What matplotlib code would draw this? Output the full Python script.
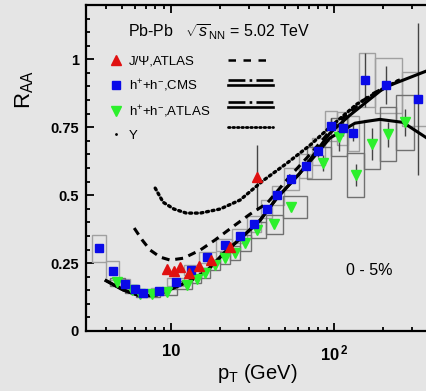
import matplotlib
matplotlib.use('Agg')
import matplotlib.pyplot as plt
from matplotlib.lines import Line2D
from matplotlib.patches import Rectangle
from matplotlib.legend_handler import HandlerBase
from matplotlib.ticker import FixedLocator, NullFormatter
import numpy as np

plt.rcParams['font.family'] = ['Liberation Sans', 'DejaVu Sans']
plt.rcParams['mathtext.fontset'] = 'custom'
plt.rcParams['mathtext.rm'] = 'Liberation Sans'
plt.rcParams['mathtext.it'] = 'Liberation Sans:italic'
plt.rcParams['mathtext.bf'] = 'Liberation Sans:bold'

# --- data ---
cms_pt = [3.6, 4.4, 5.2, 6.0, 6.7, 8.4, 10.7, 13.3, 16.6, 21.4, 26.5, 32.3, 38.8,
          44.7, 54.5, 67.3, 79.8, 95.9, 113.6, 130.8, 155, 208, 327]
cms_raa = [0.305, 0.221, 0.173, 0.154, 0.140, 0.147, 0.180, 0.224, 0.272, 0.316,
           0.349, 0.393, 0.449, 0.500, 0.559, 0.607, 0.662, 0.754, 0.746, 0.728,
           0.923, 0.904, 0.853]
cms_stat = [0, 0, 0, 0, 0, 0, 0, 0, 0, 0, 0, 0, 0, 0, 0, 0, 0.02, 0.03, 0.03,
            0.03, 0.10, 0.07, 0.28]
cms_syst = [0.05, 0.035, 0.02, 0.015, 0.012, 0.012, 0.015, 0.018, 0.02, 0.022,
            0.025, 0.03, 0.032, 0.035, 0.04, 0.045, 0.05, 0.055, 0.06, 0.065,
            0.1, 0.1, 0.1]

atl_pt = [4.67, 5.77, 6.46, 7.64, 9.45, 12.5, 14.4, 16.2, 18.6, 21.4, 24.7, 28.4,
          33.7, 42.9, 54.5, 85.7, 107, 136, 171, 214, 273]
atl_raa = [0.180, 0.151, 0.136, 0.136, 0.143, 0.169, 0.191, 0.213, 0.243, 0.268,
           0.287, 0.324, 0.371, 0.393, 0.456, 0.618, 0.713, 0.574, 0.688, 0.724,
           0.768]
atl_stat = [0, 0, 0, 0, 0, 0, 0, 0, 0, 0, 0, 0, 0, 0, 0, 0.03, 0.05, 0.04, 0.06,
            0.045, 0.05]
atl_syst = [0.015, 0.012, 0.012, 0.012, 0.012, 0.015, 0.015, 0.018, 0.02, 0.022,
            0.025, 0.03, 0.03, 0.035, 0.04, 0.06, 0.07, 0.08, 0.09, 0.1, 0.1]

jpsi_pt = [9.45, 10.4, 11.4, 12.9, 14.9, 17.6, 23.0, 33.7]
jpsi_raa = [0.228, 0.221, 0.235, 0.213, 0.239, 0.261, 0.309, 0.566]
jpsi_stat = [0, 0, 0, 0, 0, 0, 0, 0.12]

# model curves
hcms_pt = [3.99, 5.08, 6.46, 8.21, 10.3, 13.1, 16.6, 21.4, 27.3, 35.2, 44.7, 61.8,
           76.4, 94.4, 125, 205, 366]
hcms_raa = [0.185, 0.151, 0.129, 0.133, 0.158, 0.185, 0.222, 0.290, 0.346, 0.408,
            0.490, 0.581, 0.655, 0.728, 0.794, 0.897, 0.956]
hatl_pt = [3.99, 5.08, 6.46, 8.21, 10.3, 13.1, 16.6, 21.4, 27.3, 35.2, 44.7, 61.8,
           76.4, 94.4, 134.6, 191, 265, 366]
hatl_raa = [0.185, 0.151, 0.129, 0.133, 0.158, 0.185, 0.222, 0.290, 0.346, 0.408,
            0.490, 0.581, 0.645, 0.710, 0.765, 0.779, 0.768, 0.713]
jmod_pt = [5.93, 6.64, 7.43, 8.57, 9.86, 11.9, 15.1, 18.6, 24.7, 30.5, 38.8, 53.7,
           73.3, 104, 166, 254]
jmod_raa = [0.379, 0.335, 0.298, 0.272, 0.261, 0.268, 0.298, 0.335, 0.390, 0.430,
            0.470, 0.570, 0.658, 0.765, 0.868, 0.925]
ups_pt = [7.98, 8.93, 10.4, 12.4, 15.1, 20.0, 26.5, 36.6, 51.5, 71.3, 94.4, 138,
          184, 254]
ups_raa = [0.526, 0.474, 0.449, 0.434, 0.434, 0.449, 0.482, 0.553, 0.618, 0.684,
           0.750, 0.835, 0.879, 0.925]

red = '#e01010'
blue = '#0a0ae8'
green = '#2cf02c'
bg = '#e5e5e5'


def bin_edges(pt):
    pt = np.asarray(pt, float)
    mid = np.sqrt(pt[:-1] * pt[1:])
    lo = np.r_[pt[0] ** 2 / mid[0], mid]
    hi = np.r_[mid, pt[-1] ** 2 / mid[-1]]
    return lo, hi


def draw_boxes(ax, pt, raa, syst, color):
    lo, hi = bin_edges(pt)
    for a, b, y, s in zip(lo, hi, raa, syst):
        ax.add_patch(Rectangle((a, y - s), b - a, 2 * s, fill=False,
                               ec=color, lw=1.0, zorder=2))


class DoubleLine(HandlerBase):
    def create_artists(self, legend, orig_handle, xdescent, ydescent,
                       width, height, fontsize, trans):
        x = [-xdescent, width - xdescent]
        yc = height / 2 - ydescent
        top = Line2D(x, [yc + 1.6, yc + 1.6], color='k', lw=1.9, ls='-.',
                     transform=trans)
        bot = Line2D(x, [yc - 1.6, yc - 1.6], color='k', lw=1.9,
                     transform=trans)
        return [top, bot]


fig = plt.figure(figsize=(4.26, 3.91), dpi=100, facecolor=bg)
ax = fig.add_axes([86 / 426, 1 - 331 / 391, (432 - 86) / 426, (331 - 5) / 391])
ax.set_facecolor(bg)
ax.set_xscale('log')
ax.set_xlim(3, 400)
ax.set_ylim(0, 1.2)

draw_boxes(ax, cms_pt, cms_raa, cms_syst, '#a0a0a0')
draw_boxes(ax, atl_pt, atl_raa, atl_syst, '#707070')

ax.errorbar(cms_pt, cms_raa, yerr=cms_stat, fmt='none', ecolor='#444444',
            elinewidth=1, capsize=0, zorder=3)
ax.errorbar(atl_pt, atl_raa, yerr=atl_stat, fmt='none', ecolor='#444444',
            elinewidth=1, capsize=0, zorder=3)
ax.errorbar(jpsi_pt, jpsi_raa, yerr=jpsi_stat, fmt='none', ecolor='#444444',
            elinewidth=1, capsize=0, zorder=3)

ax.plot(hcms_pt, hcms_raa, color='k', lw=2.2, zorder=4)
ax.plot(hatl_pt, hatl_raa, color='k', lw=2.2, zorder=4)
ax.plot(jmod_pt, jmod_raa, color='k', lw=2.2, ls=(0, (2.6, 1.9)), zorder=4)
ax.plot(ups_pt, ups_raa, color='k', lw=2.4, ls=(0, (0.6, 1.1)),
        dash_capstyle='round', zorder=4)

ax.plot(atl_pt, atl_raa, ls='none', marker='v', ms=6.5, color=green, mec=green,
        zorder=5)
ax.plot(cms_pt, cms_raa, ls='none', marker='s', ms=6, color=blue, mec=blue,
        zorder=5)
ax.plot(jpsi_pt, jpsi_raa, ls='none', marker='^', ms=7, color=red, mec=red,
        zorder=6)

# axes styling
for s in ax.spines.values():
    s.set_linewidth(1.6)
ax.yaxis.set_major_locator(FixedLocator([0, 0.25, 0.5, 0.75, 1.0]))
ax.yaxis.set_minor_locator(FixedLocator(np.arange(0, 1.21, 0.05)))
ax.set_yticklabels(['0', '0.25', '0.5', '0.75', '1'], fontsize=10.5,
                   fontweight='bold')
ax.xaxis.set_major_locator(FixedLocator([10, 100]))
ax.set_xticklabels(['10', r'$\mathbf{10^{\,2}}$'], fontsize=12, fontweight='bold')
ax.xaxis.set_minor_formatter(NullFormatter())
ax.tick_params(which='both', direction='in', top=True, right=False, width=1.3)
ax.tick_params(which='major', length=5.5)
ax.tick_params(which='minor', length=3)
ax.tick_params(axis='y', pad=5)
ax.tick_params(axis='x', pad=9)

ax.set_ylabel(r'R$_{\rm AA}$', fontsize=16)
ax.yaxis.set_label_coords(-0.145, 0.74)
ax.set_xlabel(r'p$_{\rm T}$ (GeV)', fontsize=14.5)
ax.xaxis.set_label_coords(0.494, -0.095)

ax.text(0.121, 0.917, r'Pb-Pb   $\sqrt{s}_{\rm NN}$ = 5.02 TeV', fontsize=11.5,
        transform=ax.transAxes, va='center', ha='left')
ax.text(0.751, 0.187, '0 - 5%', fontsize=11.5, transform=ax.transAxes,
        va='center', ha='left')

# legends: markers with labels, line styles to the right
h_j = Line2D([], [], ls='none', marker='^', ms=7, color=red)
h_c = Line2D([], [], ls='none', marker='s', ms=6, color=blue)
h_a = Line2D([], [], ls='none', marker='v', ms=7, color=green)
h_u = Line2D([], [], ls='none', marker='.', ms=2, color='k')
leg1 = ax.legend([h_j, h_c, h_a, h_u],
                 ['J/\u03a8,ATLAS', r'h$^{+}$+h$^{-}$,CMS', r'h$^{+}$+h$^{-}$,ATLAS',
                  '\u03a5'],
                 loc='upper left', bbox_to_anchor=(0.069, 0.845), frameon=False,
                 fontsize=9.5, handlelength=1.0, handletextpad=0.45,
                 labelspacing=0.75, borderpad=0, borderaxespad=0, numpoints=1)
ax.add_artist(leg1)

l_j = Line2D([], [], color='k', lw=1.8, ls=(0, (3, 3)))
l_c = Line2D([], [], color='k')
l_a = Line2D([], [], color='k')
l_u = Line2D([], [], color='k', lw=2, ls=(0, (0.6, 1.0)), dash_capstyle='round')
ax.legend([l_j, l_c, l_a, l_u], [' '] * 4, loc='upper left',
          bbox_to_anchor=(0.41, 0.845), frameon=False, fontsize=9.5,
          handlelength=3.4, handletextpad=0.2, labelspacing=0.75, borderpad=0,
          borderaxespad=0, handler_map={l_c: DoubleLine(), l_a: DoubleLine()})

fig.savefig('out.png', dpi=100, facecolor=bg)
